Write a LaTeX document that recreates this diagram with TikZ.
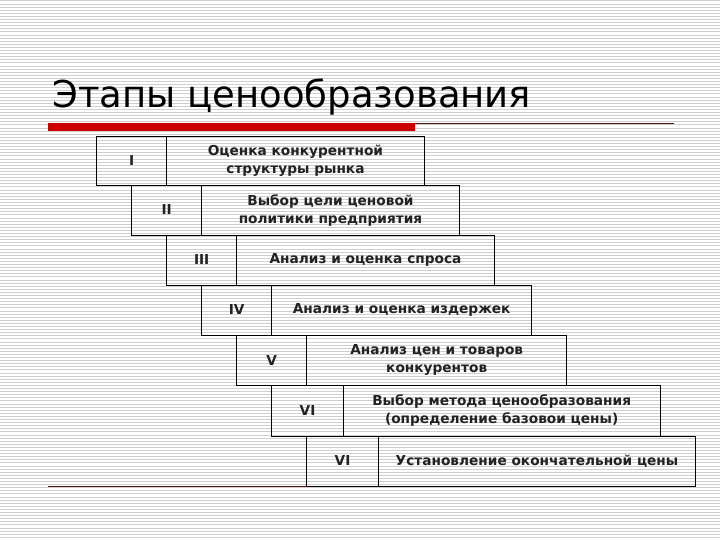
\documentclass[tikz,border=0pt]{standalone}
\usepackage{fontspec}
\setmainfont{DejaVu Sans}
\definecolor{stripe}{HTML}{CFCFCF}
\definecolor{barred}{HTML}{CC0000}
\definecolor{thinred}{HTML}{4A1414}
\definecolor{txt}{HTML}{222222}
\tikzset{
  cell/.style={draw=black, line width=0.9pt, inner sep=0pt, outer sep=0pt, anchor=north west,
    font=\fontsize{13.7}{18}\selectfont\bfseries, text=txt, align=center},
  stripeline/.style={draw=stripe, line width=1pt}
}
\newcommand{\stagerow}[9]{%
  \node[cell, minimum width=#4pt, minimum height=#6pt] (#1n) at (#2,#3) {#7};
  \node[cell, minimum width=#5pt, minimum height=#6pt, anchor=north west] (#1t) at (#2+#4,#3) {#8#9};
}
\begin{document}
\begin{tikzpicture}[x=1pt,y=-1pt]
\useasboundingbox (0,0) rectangle (720,540);
\fill[white] (0,0) rectangle (720,540);
\foreach \i in {0,...,174} {
  \draw[stripeline] (0,\i*3.1+1) -- (720,\i*3.1+1);
}
% title
\node[anchor=base west, inner sep=0pt, font=\fontsize{37}{44}\selectfont] (title) at (52,108) {Этапы ценообразования};
% rules
\fill[barred] (47.5,122.7) rectangle (415,131);
\coordinate (tl1) at (415,123.3);
\coordinate (tl2) at (674,123.3);
\draw[thinred, line width=1pt] (tl1) -- (tl2);
% rows
\stagerow{r1}{96.7}{136.5}{70}{257.5}{48.5}{I}{Оценка конкурентной\\структуры рынка}{}
\stagerow{r2}{131.7}{185}{70}{257.5}{50}{II}{Выбор цели ценовой\\политики предприятия}{}
\stagerow{r3}{166.7}{235}{70}{257.6}{50}{III}{Анализ и оценка спроса}{}
\stagerow{r4}{201.7}{285}{70}{260}{50}{IV}{Анализ и оценка издержек}{}
\stagerow{r5}{236.7}{335}{70}{260}{50.5}{V}{Анализ цен и товаров\\конкурентов}{}
\stagerow{r6}{271.7}{385.5}{71.6}{316.7}{50.5}{VI}{Выбор метода ценообразования\\(определение базовои цены)}{}
\stagerow{r7}{306.7}{436}{71.6}{317.4}{50}{VI}{Установление окончательной цены}{}
% bottom rule
\coordinate (lm) at (48,0);
\draw[thinred, line width=1pt] (r7n.south west -| lm) -- (r7n.south west);
\end{tikzpicture}
\end{document}
